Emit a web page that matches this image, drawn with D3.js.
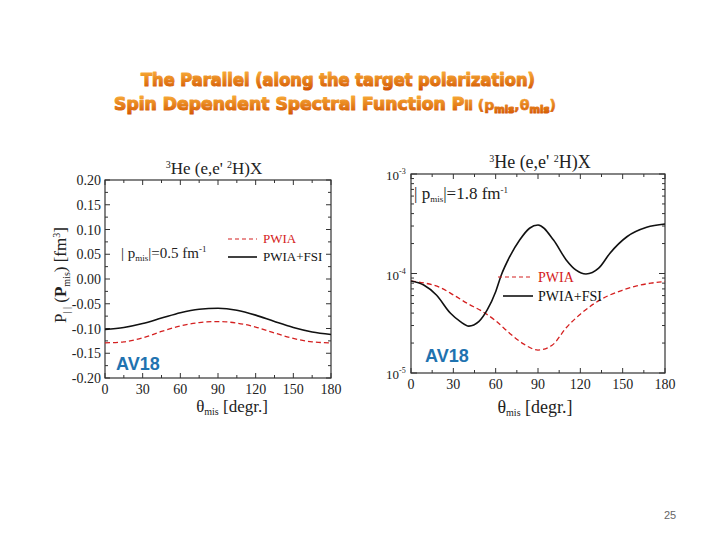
<!DOCTYPE html>
<html><head><meta charset="utf-8">
<script src="https://cdn.jsdelivr.net/npm/d3@7"></script>
<style>body{margin:0;background:#fff}svg{display:block}</style>
</head><body>
<svg id="c" width="720" height="540"></svg>
<script>
// ---- data ----
const xTicks = [0, 30, 60, 90, 120, 150, 180];
const leftYTicks = [0.20, 0.15, 0.10, 0.05, 0.00, -0.05, -0.10, -0.15, -0.20];
const rightYTicks = [1e-3, 1e-4, 1e-5];
const rightYTickExp = ["-3", "-4", "-5"];

const leftTheta = [0, 15, 30, 45, 60, 75, 90, 105, 120, 135, 150, 165, 180];
const leftFSI  = [-0.102, -0.098, -0.090, -0.079, -0.068, -0.061, -0.059, -0.063, -0.073, -0.086, -0.098, -0.107, -0.112];
const leftPWIA = [-0.129, -0.127, -0.119, -0.106, -0.095, -0.088, -0.086, -0.089, -0.097, -0.109, -0.120, -0.127, -0.129];

const rightThetaFSI = [0, 9, 18, 28, 35, 41, 48, 54, 60, 64, 70, 77, 84, 90, 101, 110, 117, 124, 133, 141, 153, 167, 180];
const rightFSI = [8.4e-5, 7.66e-5, 6.08e-5, 3.98e-5, 3.28e-5, 2.96e-5, 3.28e-5, 4.3e-5, 6.56e-5, 9.66e-5, 1.48e-4, 2.17e-4, 2.85e-4, 3.07e-4, 2.17e-4, 1.37e-4, 1.08e-4, 9.9e-5, 1.13e-4, 1.6e-4, 2.34e-4, 2.91e-4, 3.14e-4];
const rightThetaPWIA = [0, 10, 20, 30, 40, 50, 60, 70, 80, 90, 100, 110, 120, 130, 140, 150, 160, 170, 180];
const rightPWIA = [8.4e-5, 8.0e-5, 7.3e-5, 6.1e-5, 5.0e-5, 4.2e-5, 3.35e-5, 2.5e-5, 1.95e-5, 1.7e-5, 1.9e-5, 2.85e-5, 3.9e-5, 5.0e-5, 6.0e-5, 6.8e-5, 7.5e-5, 8.0e-5, 8.3e-5];

const seriesNames = ["PWIA", "PWIA+FSI"];
const AV = "AV18";

// ---- drawing ----
const svg = d3.select("#c");
const serif = "'Liberation Serif', 'Times New Roman', serif";
const defs = svg.append("defs");
const grad = defs.append("linearGradient").attr("id","tg").attr("x1",0).attr("y1",0).attr("x2",0).attr("y2",1);
grad.append("stop").attr("offset","0%").attr("stop-color","#fbb23a");
grad.append("stop").attr("offset","100%").attr("stop-color","#d25400");

// main title
const title = svg.append("g").attr("font-family","'DejaVu Sans', sans-serif").attr("font-weight","bold")
  .attr("text-anchor","middle").attr("fill","url(#tg)").attr("stroke","url(#tg)").attr("stroke-width",1.1)
  .attr("stroke-linejoin","round");
title.append("text").attr("x",338).attr("y",86).attr("font-size",17).attr("textLength",394)
  .attr("lengthAdjust","spacingAndGlyphs")
  .text("The Parallel (along the target polarization)");
const t2 = title.append("text").attr("x",335).attr("y",110).attr("font-size",17)
  .attr("textLength",442).attr("lengthAdjust","spacingAndGlyphs");
t2.append("tspan").text("Spin Dependent Spectral Function P");
t2.append("tspan").attr("font-size",12).text("ll");
t2.append("tspan").attr("font-size",14).attr("stroke-width",0.6).text(" (p");
t2.append("tspan").attr("font-size",10).attr("dy",3).text("mis");
t2.append("tspan").attr("font-size",14).attr("stroke-width",0.6).attr("dy",-3).text(",θ");
t2.append("tspan").attr("font-size",10).attr("dy",3).text("mis");
t2.append("tspan").attr("font-size",14).attr("stroke-width",0.6).attr("dy",-3).text(")");

function frame(g, x, y) {
  const [x0,x1] = x.range(), [y0,y1] = y.range();
  g.append("rect").attr("x",x0).attr("y",y1).attr("width",x1-x0).attr("height",y0-y1)
    .attr("fill","none").attr("stroke","#333").attr("stroke-width",1.2);
  d3.range(0,181,15).forEach(v=>{
    const L = v%30===0 ? 5 : 3;
    g.append("line").attr("x1",x(v)).attr("x2",x(v)).attr("y1",y0).attr("y2",y0-L).attr("stroke","#333");
    g.append("line").attr("x1",x(v)).attr("x2",x(v)).attr("y1",y1).attr("y2",y1+L).attr("stroke","#333");
  });
  g.selectAll(null).data(xTicks).enter().append("text")
    .attr("x",d=>x(d)).attr("y",y0+16).attr("text-anchor","middle")
    .attr("font-family",serif).attr("font-size",14).attr("fill","#222").text(d=>d);
}

// ---- left chart ----
const xL = d3.scaleLinear().domain([0,180]).range([105,331]);
const yL = d3.scaleLinear().domain([-0.20,0.20]).range([378,180]);
const gL = svg.append("g");
frame(gL, xL, yL);
d3.range(-0.20,0.2001,0.025).forEach(v=>{
  const major = Math.abs(Math.round(v*1000))%50===0;
  const L = major?5:3;
  gL.append("line").attr("x1",105).attr("x2",105+L).attr("y1",yL(v)).attr("y2",yL(v)).attr("stroke","#333");
  gL.append("line").attr("x1",331).attr("x2",331-L).attr("y1",yL(v)).attr("y2",yL(v)).attr("stroke","#333");
});
gL.selectAll(null).data(leftYTicks).enter().append("text")
  .attr("x",101).attr("y",d=>yL(d)+5).attr("text-anchor","end")
  .attr("font-family",serif).attr("font-size",14).attr("fill","#222")
  .text(d=>d3.format(".2f")(d).replace("−","-"));
const lineL = d3.line().curve(d3.curveMonotoneX);
gL.append("path").attr("d",lineL(leftTheta.map((t,i)=>[xL(t),yL(leftPWIA[i])])))
  .attr("fill","none").attr("stroke","#d42020").attr("stroke-width",1.3).attr("stroke-dasharray","5,3");
gL.append("path").attr("d",lineL(leftTheta.map((t,i)=>[xL(t),yL(leftFSI[i])])))
  .attr("fill","none").attr("stroke","#111").attr("stroke-width",1.6);
const tl = gL.append("text").attr("x",214).attr("y",174).attr("text-anchor","middle").attr("font-family",serif).attr("font-size",17).attr("fill","#222");
tl.append("tspan").attr("font-size",10).attr("dy",-6).text("3");
tl.append("tspan").attr("dy",6).text("He (e,e' ");
tl.append("tspan").attr("font-size",10).attr("dy",-6).text("2");
tl.append("tspan").attr("dy",6).text("H)X");
gL.append("line").attr("x1",228).attr("x2",257).attr("y1",239).attr("y2",239).attr("stroke","#d42020").attr("stroke-width",1.2).attr("stroke-dasharray","4,3");
gL.append("text").attr("x",263).attr("y",243).attr("font-family",serif).attr("font-size",13).attr("fill","#d42020").text(seriesNames[0]);
gL.append("line").attr("x1",228).attr("x2",257).attr("y1",257).attr("y2",257).attr("stroke","#111").attr("stroke-width",1.6);
gL.append("text").attr("x",263).attr("y",261).attr("font-family",serif).attr("font-size",13).attr("fill","#111").text(seriesNames[1]);
const pl = gL.append("text").attr("x",121).attr("y",258).attr("font-family",serif).attr("font-size",15).attr("fill","#222");
pl.append("tspan").text("| p");
pl.append("tspan").attr("font-size",9).attr("dy",3).text("mis");
pl.append("tspan").attr("dy",-3).text("|=0.5 fm");
pl.append("tspan").attr("font-size",9).attr("dy",-6).text("-1");
gL.append("text").attr("x",116).attr("y",370).attr("font-family","'Liberation Sans', Arial, sans-serif").attr("font-weight","bold").attr("font-size",18).attr("fill","#1f73b0").text(AV);
const xlL = gL.append("text").attr("x",232).attr("y",412).attr("text-anchor","middle").attr("font-family",serif).attr("font-size",17).attr("fill","#222");
xlL.append("tspan").text("θ");
xlL.append("tspan").attr("font-size",10).attr("dy",3).text("mis");
xlL.append("tspan").attr("dy",-3).text(" [degr.]");
const ylL = gL.append("text").attr("transform","translate(66,275) rotate(-90)").attr("text-anchor","middle").attr("font-family",serif).attr("font-size",17).attr("fill","#222");
ylL.append("tspan").text("P");
ylL.append("tspan").attr("font-size",10).attr("dy",4).text("| |");
ylL.append("tspan").attr("dy",-4).text(" (");
ylL.append("tspan").attr("font-weight","bold").text("P");
ylL.append("tspan").attr("font-size",10).attr("dy",4).text("mis");
ylL.append("tspan").attr("dy",-4).text(")  [fm");
ylL.append("tspan").attr("font-size",10).attr("dy",-6).text("3");
ylL.append("tspan").attr("dy",6).text("]");

// ---- right chart ----
const xR = d3.scaleLinear().domain([0,180]).range([411,665]);
const yR = d3.scaleLog().domain([1e-5,1e-3]).range([373,174]);
const gR = svg.append("g");
frame(gR, xR, yR);
[1e-5,1e-4].forEach(dec=>{
  for (let m=1;m<=10;m++){
    const v = dec*m;
    const major = (m===1||m===10);
    const L = major?6:3;
    gR.append("line").attr("x1",411).attr("x2",411+L).attr("y1",yR(v)).attr("y2",yR(v)).attr("stroke","#333");
    gR.append("line").attr("x1",665).attr("x2",665-L).attr("y1",yR(v)).attr("y2",yR(v)).attr("stroke","#333");
  }
});
rightYTicks.forEach((v,i)=>{
  const t = gR.append("text").attr("x",386).attr("y",yR(v)+6).attr("font-family",serif).attr("font-size",13).attr("fill","#222");
  t.append("tspan").text("10");
  t.append("tspan").attr("font-size",8).attr("dy",-6).text(rightYTickExp[i]);
});
const lineR = d3.line().curve(d3.curveMonotoneX);
gR.append("path").attr("d",lineR(rightThetaPWIA.map((t,i)=>[xR(t),yR(rightPWIA[i])])))
  .attr("fill","none").attr("stroke","#d42020").attr("stroke-width",1.3).attr("stroke-dasharray","5,3");
gR.append("path").attr("d",lineR(rightThetaFSI.map((t,i)=>[xR(t),yR(rightFSI[i])])))
  .attr("fill","none").attr("stroke","#111").attr("stroke-width",1.6);
const tr = gR.append("text").attr("x",540).attr("y",168).attr("text-anchor","middle").attr("font-family",serif).attr("font-size",18).attr("fill","#222");
tr.append("tspan").attr("font-size",10).attr("dy",-6).text("3");
tr.append("tspan").attr("dy",6).text("He (e,e' ");
tr.append("tspan").attr("font-size",10).attr("dy",-6).text("2");
tr.append("tspan").attr("dy",6).text("H)X");
gR.append("line").attr("x1",498).attr("x2",533).attr("y1",277).attr("y2",277).attr("stroke","#d42020").attr("stroke-width",1.2).attr("stroke-dasharray","4,3");
gR.append("text").attr("x",538).attr("y",282).attr("font-family",serif).attr("font-size",14).attr("fill","#d42020").text(seriesNames[0]);
gR.append("line").attr("x1",503).attr("x2",533).attr("y1",296).attr("y2",296).attr("stroke","#111").attr("stroke-width",1.6);
gR.append("text").attr("x",538).attr("y",301).attr("font-family",serif).attr("font-size",14).attr("fill","#111").text(seriesNames[1]);
const pr = gR.append("text").attr("x",414).attr("y",199).attr("font-family",serif).attr("font-size",17).attr("fill","#222");
pr.append("tspan").text("| p");
pr.append("tspan").attr("font-size",9).attr("dy",3).text("mis");
pr.append("tspan").attr("dy",-3).text("|=1.8 fm");
pr.append("tspan").attr("font-size",9).attr("dy",-6).text("-1");
gR.append("text").attr("x",425).attr("y",362).attr("font-family","'Liberation Sans', Arial, sans-serif").attr("font-weight","bold").attr("font-size",18).attr("fill","#1f73b0").text(AV);
const xlR = gR.append("text").attr("x",535).attr("y",413).attr("text-anchor","middle").attr("font-family",serif).attr("font-size",18).attr("fill","#222");
xlR.append("tspan").text("θ");
xlR.append("tspan").attr("font-size",10).attr("dy",3).text("mis");
xlR.append("tspan").attr("dy",-3).text(" [degr.]");

svg.append("text").attr("x",670).attr("y",519).attr("text-anchor","middle").attr("font-family","'Liberation Sans', Arial, sans-serif").attr("font-size",11).attr("fill","#666").text("25");
</script>
</body></html>
